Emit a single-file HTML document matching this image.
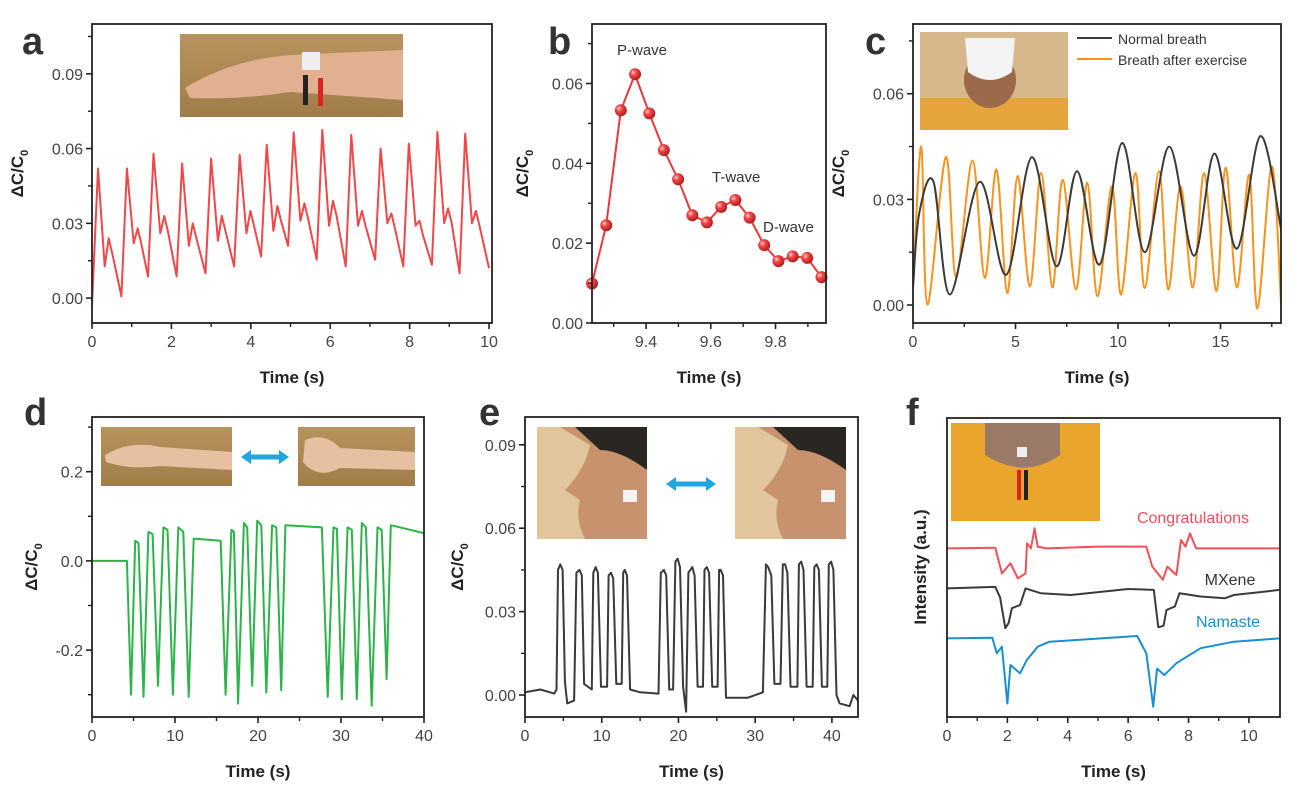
<!DOCTYPE html>
<html><head><meta charset="utf-8"><style>
html,body{margin:0;padding:0;background:#fff;}
svg{display:block;font-family:"Liberation Sans",Arial,sans-serif;}
.tk{font-size:16px;fill:#444;}
.ax{font-size:17px;font-weight:bold;fill:#222;}
.lt{font-size:38px;font-weight:bold;fill:#333;}
</style></head><body>
<svg id="fig" width="1296" height="793" viewBox="0 0 1296 793">
<defs>
<radialGradient id="ball" cx="0.35" cy="0.35" r="0.7"><stop offset="0" stop-color="#ffd0d0"/><stop offset="0.35" stop-color="#f04848"/><stop offset="1" stop-color="#b01818"/></radialGradient>
<linearGradient id="tan" x1="0" y1="0" x2="0" y2="1"><stop offset="0" stop-color="#b8935e"/><stop offset="1" stop-color="#a07c48"/></linearGradient>
</defs>
<text class="lt" x="22" y="54">a</text>
<text class="lt" x="548" y="54">b</text>
<text class="lt" x="865" y="54">c</text>
<text class="lt" x="24" y="425">d</text>
<text class="lt" x="479" y="425">e</text>
<text class="lt" x="906" y="425">f</text>

<g>
<rect x="180" y="34" width="223" height="83" fill="url(#tan)"/>
<path d="M185 88 Q230 60 290 55 L403 50 L403 100 L290 92 Q240 100 190 98 Z" fill="#e0b090"/>
<rect x="302" y="52" width="18" height="18" fill="#eee"/>
<rect x="303" y="75" width="5" height="30" fill="#222"/><rect x="318" y="78" width="5" height="28" fill="#d22"/>
</g>
<g>
<rect x="920" y="32" width="148" height="98" fill="#d6b88c"/>
<rect x="920" y="98" width="148" height="32" fill="#e6a53a"/>
<ellipse cx="990" cy="80" rx="26" ry="28" fill="#9a6a4a"/>
<path d="M965 38 L1015 38 L1012 72 Q990 88 968 72 Z" fill="#f4f4f4"/>
</g>
<g>
<rect x="101" y="427" width="131" height="59" fill="url(#tan)"/>
<path d="M105 455 Q130 440 160 447 L232 452 L232 470 L160 466 Q130 470 106 462Z" fill="#e6c0a0"/>
</g>
<g>
<rect x="298" y="427" width="117" height="59" fill="url(#tan)"/>
<path d="M305 440 Q325 432 340 448 L415 452 L415 470 L340 468 Q318 480 303 462Z" fill="#e6c0a0"/>
</g>
<g>
<line x1="247" y1="457" x2="283" y2="457" stroke="#1fa5e0" stroke-width="5"/>
<polygon points="241,457 251,450 251,464" fill="#1fa5e0"/><polygon points="289,457 279,450 279,464" fill="#1fa5e0"/>
</g>
<g>
<rect x="537" y="427" width="110" height="112" fill="#e0c69a"/>
<path d="M560 427 L647 427 L647 539 L585 539 Q575 520 580 500 L565 490 Q585 470 590 445Z" fill="#c8926e"/>
<path d="M575 427 L647 427 L647 470 Q620 450 600 450Z" fill="#2a2622"/>
<rect x="623" y="490" width="14" height="12" fill="#f4f4f4"/>
</g>
<g>
<rect x="735" y="427" width="111" height="112" fill="#e0c69a"/>
<path d="M758 427 L846 427 L846 539 L783 539 Q773 520 778 500 L763 490 Q783 470 788 445Z" fill="#c8926e"/>
<path d="M773 427 L846 427 L846 470 Q818 450 798 450Z" fill="#2a2622"/>
<rect x="821" y="490" width="14" height="12" fill="#f4f4f4"/>
</g>
<g>
<line x1="672" y1="484" x2="710" y2="484" stroke="#1fa5e0" stroke-width="5"/>
<polygon points="666,484 676,477 676,491" fill="#1fa5e0"/><polygon points="716,484 706,477 706,491" fill="#1fa5e0"/>
</g>
<g>
<rect x="951" y="423" width="149" height="98" fill="#e9a52c"/>
<path d="M985 423 L1060 423 L1060 455 Q1025 480 985 455Z" fill="#9a7a66"/>
<rect x="1017" y="447" width="10" height="10" fill="#eee"/>
<rect x="1017" y="470" width="4" height="30" fill="#d22"/><rect x="1024" y="470" width="4" height="30" fill="#222"/>
</g>
</svg>
<script>
// ---------- data ----------
const aPeakT = [0.15,0.88,1.55,2.27,3.0,3.72,4.4,5.08,5.8,6.53,7.27,7.98,8.7,9.4];
const aPeakV = [0.052,0.052,0.058,0.054,0.056,0.0575,0.0615,0.0665,0.0675,0.0655,0.060,0.062,0.0667,0.066];
const aDipV = [0.0127,0.022,0.026,0.021,0.023,0.026,0.027,0.031,0.029,0.029,0.030,0.029,0.030,0.030];
const aBumpV = [0.024,0.028,0.033,0.030,0.033,0.035,0.037,0.038,0.039,0.035,0.034,0.031,0.036,0.035];
const aTroughV = [-0.003,0.0007,0.0087,0.0087,0.010,0.0127,0.0167,0.021,0.0154,0.0127,0.0154,0.0127,0.0134,0.010];
const aEnd = [10, 0.012];
const bTimes = [9.233,9.277,9.322,9.366,9.410,9.455,9.499,9.543,9.588,9.632,9.676,9.720,9.765,9.809,9.853,9.898,9.942];
const bValues = [0.0099,0.0245,0.0533,0.0623,0.0525,0.0433,0.036,0.027,0.0252,0.0291,0.0308,0.0264,0.0195,0.0155,0.0167,0.0163,0.0115];
const cNormalT = [0,0.3,1.0,1.8,3.25,4.55,5.8,7.0,8.0,9.1,10.2,11.3,12.5,13.7,14.7,15.8,16.95,18];
const cNormalV = [0.005,0.026,0.035,0.003,0.035,0.0086,0.042,0.011,0.038,0.0115,0.046,0.015,0.045,0.014,0.043,0.016,0.048,0.02];
const cExerT = [0,0.4,0.7,1.6,2.1,2.9,3.5,4.07,4.6,5.1,5.7,6.25,6.8,7.3,7.95,8.5,9.0,9.7,10.15,10.85,11.3,12.0,12.45,13.05,13.65,14.2,14.8,15.25,15.8,16.4,16.8,17.5,17.95];
const cExerV = [0.005,0.045,0.0001,0.042,0.008,0.041,0.0077,0.0385,0.0034,0.0366,0.0053,0.0375,0.005,0.0356,0.0044,0.0347,0.0025,0.0337,0.003,0.0375,0.0048,0.038,0.0044,0.0337,0.005,0.0375,0.004,0.039,0.005,0.037,-0.001,0.0394,0.0006];
const dPoints = [[0,0.0],[4.2,0.0],[4.7,-0.30],[5.2,0.045],[5.6,0.04],[6.2,-0.305],[6.8,0.065],[7.3,0.06],[7.95,-0.28],[8.6,0.075],[9.1,0.07],[9.75,-0.30],[10.4,0.075],[11.0,0.065],[11.65,-0.305],[12.25,0.05],[15.5,0.045],[16.1,-0.30],[16.8,0.07],[17.1,0.065],[17.6,-0.32],[18.3,0.085],[18.7,0.075],[19.3,-0.28],[19.9,0.09],[20.4,0.08],[21.0,-0.295],[21.7,0.08],[22.2,0.075],[22.8,-0.29],[23.3,0.08],[27.7,0.075],[28.4,-0.305],[29.1,0.075],[29.5,0.072],[30.1,-0.31],[30.8,0.075],[31.3,0.07],[31.9,-0.31],[32.5,0.085],[33.0,0.075],[33.7,-0.325],[34.4,0.075],[34.9,0.07],[35.5,-0.265],[36.0,0.08],[40,0.062]];
const ePoints = [[0,0.001],[2,0.002],[3.8,0.0005],[4.1,0.002],[4.3,0.045],[4.6,0.047],[4.9,0.045],[5.2,0.005],[5.5,-0.003],[6.4,-0.002],[6.7,0.044],[7.1,0.045],[7.4,0.043],[7.7,0.004],[8.7,0.002],[8.9,0.044],[9.2,0.046],[9.5,0.044],[9.9,0.003],[10.7,0.003],[10.9,0.043],[11.2,0.044],[11.5,0.042],[11.9,0.004],[12.6,0.004],[12.8,0.044],[13.0,0.045],[13.3,0.043],[13.7,0.002],[15,0.001],[17.4,0.0005],[17.7,0.044],[18.1,0.045],[18.4,0.043],[18.8,0.002],[19.3,0.002],[19.6,0.048],[19.9,0.049],[20.2,0.046],[20.6,0.003],[21.0,-0.006],[21.3,0.044],[21.8,0.046],[22.1,0.043],[22.5,0.003],[23.2,0.003],[23.4,0.045],[23.7,0.046],[24.0,0.044],[24.4,0.003],[25.1,0.003],[25.3,0.045],[25.5,0.045],[25.8,0.043],[26.2,-0.001],[29,-0.001],[31,0.001],[31.4,0.047],[31.7,0.046],[32.1,0.043],[32.5,0.004],[33.3,0.004],[33.6,0.047],[33.9,0.047],[34.2,0.044],[34.6,0.003],[35.5,0.003],[35.7,0.047],[36.0,0.048],[36.3,0.045],[36.7,0.003],[37.5,0.003],[37.7,0.046],[38.0,0.047],[38.3,0.045],[38.7,0.003],[39.4,0.003],[39.6,0.047],[39.9,0.048],[40.2,0.045],[40.6,0.0],[41,-0.003],[42.3,-0.004],[42.8,0.0],[43.4,-0.002]];
const fCongrats = [[0,0.564],[1.6,0.566],[1.82,0.48],[2.1,0.514],[2.35,0.464],[2.6,0.48],[2.65,0.581],[2.78,0.564],[2.9,0.631],[3.0,0.57],[3.3,0.564],[5,0.57],[6.6,0.57],[6.8,0.503],[7.15,0.459],[7.3,0.503],[7.6,0.475],[7.75,0.592],[7.9,0.57],[8.05,0.614],[8.25,0.564],[11,0.564]];
const fMXene = [[0,0.43],[1.6,0.435],[1.76,0.40],[1.93,0.297],[2.04,0.314],[2.15,0.364],[2.42,0.375],[2.6,0.43],[3.1,0.414],[4.1,0.408],[6,0.428],[6.85,0.425],[7.0,0.30],[7.17,0.305],[7.27,0.358],[7.55,0.37],[7.7,0.414],[8.4,0.403],[9.2,0.397],[9.5,0.408],[10.6,0.42],[11,0.425]];
const fNamaste = [[0,0.263],[1.5,0.265],[1.65,0.213],[1.82,0.235],[2.0,0.045],[2.1,0.174],[2.42,0.146],[2.64,0.19],[3.0,0.235],[3.4,0.252],[5.1,0.263],[6.3,0.271],[6.6,0.213],[6.83,0.034],[6.96,0.162],[7.2,0.140],[7.6,0.18],[8.4,0.23],[9.5,0.252],[11,0.263]];
const xTicksA = [0,2,4,6,8,10], yTicksA = [0,0.03,0.06,0.09];
const xTicksB = [9.4,9.6,9.8], yTicksB = [0,0.02,0.04,0.06];
const xTicksC = [0,5,10,15], yTicksC = [0,0.03,0.06];
const xTicksD = [0,10,20,30,40], yTicksD = [-0.2,0,0.2];
const xTicksE = [0,10,20,30,40], yTicksE = [0,0.03,0.06,0.09];
const xTicksF = [0,2,4,6,8,10];

// ---------- drawing ----------
const NS = 'http://www.w3.org/2000/svg';
const svg = document.getElementById('fig');
function mk(tag, attrs, parent) {
  const e = document.createElementNS(NS, tag);
  for (const k in attrs) e.setAttribute(k, attrs[k]);
  (parent || svg).appendChild(e);
  return e;
}
function panel(name, box, xd, yd) {
  const g = mk('g', {});
  
  
  const sx = v => box[0] + (v - xd[0]) / (xd[1] - xd[0]) * (box[2] - box[0]);
  const sy = v => box[3] - (v - yd[0]) / (yd[1] - yd[0]) * (box[3] - box[1]);
  return {g, sx, sy, box};
}
function frame(P) {
  const b = P.box;
  const r = mk('rect', {x: b[0], y: b[1], width: b[2] - b[0], height: b[3] - b[1], fill: 'none', stroke: '#222', 'stroke-width': 1.8}, P.g);
  
  
}
function xAxis(P, ticks, minors, fmt) {
  const b = P.box;
  ticks.forEach(t => {
    const x = P.sx(t);
    mk('line', {x1: x, x2: x, y1: b[3], y2: b[3] + 6, stroke: '#222', 'stroke-width': 1.6}, P.g);
    const tx = mk('text', {x: x, y: b[3] + 24, 'text-anchor': 'middle', class: 'tk'}, P.g);
    tx.textContent = fmt(t);
    
    
  });
  minors.forEach(t => {
    const x = P.sx(t);
    mk('line', {x1: x, x2: x, y1: b[3], y2: b[3] + 4, stroke: '#222', 'stroke-width': 1.4}, P.g);
  });
  const t = mk('text', {x: (b[0] + b[2]) / 2, y: b[3] + 60, 'text-anchor': 'middle', class: 'ax'}, P.g);
  t.textContent = 'Time (s)';
  
  
}
function yAxis(P, ticks, minors, fmt, lx) {
  const b = P.box;
  ticks.forEach(v => {
    const y = P.sy(v);
    mk('line', {x1: b[0] - 6, x2: b[0], y1: y, y2: y, stroke: '#222', 'stroke-width': 1.6}, P.g);
    const tx = mk('text', {x: b[0] - 9, y: y + 6, 'text-anchor': 'end', class: 'tk'}, P.g);
    tx.textContent = fmt(v);
    
    
  });
  minors.forEach(v => {
    const y = P.sy(v);
    mk('line', {x1: b[0] - 4, x2: b[0], y1: y, y2: y, stroke: '#222', 'stroke-width': 1.4}, P.g);
  });
  const cy = (b[1] + b[3]) / 2;
  const t = mk('text', {x: lx, y: cy, 'text-anchor': 'middle', class: 'ax', transform: 'rotate(-90 ' + lx + ' ' + cy + ')'}, P.g);
  t.textContent = 'ΔC/C';
  const s = mk('tspan', {'font-size': '11', dy: '5'}, t);
  s.textContent = '0';
  
  
}
function linePath(P, pts, smooth) {
  const p = pts.map(q => [P.sx(q[0]), P.sy(q[1])]);
  if (!smooth) return 'M' + p.map(q => q[0].toFixed(1) + ' ' + q[1].toFixed(1)).join(' L');
  let d = 'M' + p[0][0].toFixed(1) + ' ' + p[0][1].toFixed(1);
  for (let i = 0; i < p.length - 1; i++) {
    const p0 = p[i - 1] || p[i], p1 = p[i], p2 = p[i + 1], p3 = p[i + 2] || p2;
    const c1 = [p1[0] + (p2[0] - p0[0]) / 6, p1[1] + (p2[1] - p0[1]) / 6];
    const c2 = [p2[0] - (p3[0] - p1[0]) / 6, p2[1] - (p3[1] - p1[1]) / 6];
    d += ' C' + c1.map(v => v.toFixed(1)).join(' ') + ' ' + c2.map(v => v.toFixed(1)).join(' ') + ' ' + p2[0].toFixed(1) + ' ' + p2[1].toFixed(1);
  }
  return d;
}
function series(P, pts, color, name, smooth, w) {
  const clip = 'clip-' + name;
  const cp = mk('clipPath', {id: clip}, P.g);
  mk('rect', {x: P.box[0], y: P.box[1], width: P.box[2] - P.box[0], height: P.box[3] - P.box[1]}, cp);
  const path = mk('path', {d: linePath(P, pts, smooth), fill: 'none', stroke: color, 'stroke-width': w || 2, 'stroke-linejoin': 'round', 'clip-path': 'url(#' + clip + ')'}, P.g);
  
  
  return path;
}
function label(P, x, y, txt, color, size, name, anchor) {
  const t = mk('text', {x: x, y: y, fill: color, 'font-size': size, 'text-anchor': anchor || 'start'}, P.g);
  t.textContent = txt;
  
  
}
const f2 = v => v.toFixed(2), f1 = v => v.toFixed(1), f0 = v => String(v);

// Panel a
(function () {
  const P = panel('panel-a-pulse-chart', [92, 24, 492, 323], [0, 10.075], [-0.01, 0.11]);
  const pts = [];
  aPeakT.forEach((t, i) => {
    if (i === 0) pts.push([0, aTroughV[0]]); else pts.push([t - 0.14, aTroughV[i]]);
    pts.push([t, aPeakV[i]]);
    pts.push([t + 0.17, aDipV[i]]);
    pts.push([t + 0.27, aBumpV[i]]);
    pts.push([t + 0.36, aBumpV[i] - 0.006]);
  });
  pts.push(aEnd);
  series(P, pts, '#f04848', 'pulse-line', false, 2);
  frame(P);
  xAxis(P, xTicksA, [1, 3, 5, 7, 9], f0);
  yAxis(P, yTicksA, [0.015, 0.045, 0.075, 0.105], f2, 23);
})();

// Panel b
(function () {
  const P = panel('panel-b-single-pulse-chart', [592, 24, 826, 323], [9.233, 9.956], [0, 0.0749]);
  const pts = bTimes.map((t, i) => [t, bValues[i]]);
  series(P, pts, '#e83a3d', 'single-pulse-line', false, 2);
  pts.forEach(q => {
    const c = mk('circle', {cx: P.sx(q[0]), cy: P.sy(q[1]), r: 6, fill: 'url(#ball)'}, P.g);
    
    
  });
  frame(P);
  xAxis(P, xTicksB, [9.3, 9.5, 9.7, 9.9], f1);
  yAxis(P, yTicksB, [0.01, 0.03, 0.05, 0.07], f2, 528);
  label(P, 617, 55, 'P-wave', '#333', 15, 'p-wave-annotation');
  label(P, 712, 182, 'T-wave', '#333', 15, 't-wave-annotation');
  label(P, 763, 232, 'D-wave', '#333', 15, 'd-wave-annotation');
})();

// Panel c
(function () {
  const P = panel('panel-c-breath-chart', [913, 24, 1281, 323], [0, 17.95], [-0.0051, 0.0798]);
  series(P, cExerT.map((t, i) => [t, cExerV[i]]), '#f7931e', 'exercise-breath-line', true, 2);
  series(P, cNormalT.map((t, i) => [t, cNormalV[i]]), '#3a3a3a', 'normal-breath-line', true, 2);
  frame(P);
  xAxis(P, xTicksC, [2.5, 7.5, 12.5, 17.5], f0);
  yAxis(P, yTicksC, [0.015, 0.045, 0.075], f2, 844);
  const lg = mk('g', {}, P.g);
  
  
  mk('line', {x1: 1077, x2: 1112, y1: 38, y2: 38, stroke: '#3a3a3a', 'stroke-width': 2}, lg);
  mk('line', {x1: 1077, x2: 1112, y1: 59, y2: 59, stroke: '#f7931e', 'stroke-width': 2}, lg);
  label({g: lg}, 1118, 44, 'Normal breath', '#333', 14, 'legend-normal-breath');
  label({g: lg}, 1118, 65, 'Breath after exercise', '#333', 14, 'legend-breath-after-exercise');
})();

// Panel d
(function () {
  const P = panel('panel-d-wrist-bend-chart', [92, 417, 424, 717], [0, 40], [-0.35, 0.3226]);
  series(P, dPoints, '#2db34a', 'wrist-bend-line', false, 2);
  frame(P);
  xAxis(P, xTicksD, [5, 15, 25, 35], f0);
  yAxis(P, yTicksD, [-0.3, -0.1, 0.1, 0.3], f1, 37);
})();

// Panel e
(function () {
  const P = panel('panel-e-blink-chart', [525, 417, 858, 717], [0, 43.4], [-0.0079, 0.1]);
  series(P, ePoints, '#3a3a3a', 'blink-line', false, 2);
  frame(P);
  xAxis(P, xTicksE, [5, 15, 25, 35], f0);
  yAxis(P, yTicksE, [0.015, 0.045, 0.075], f2, 463);
})();

// Panel f
(function () {
  const P = panel('panel-f-speech-chart', [947, 418, 1280, 717], [0, 11.03], [0, 1]);
  series(P, fCongrats, '#f0505a', 'congratulations-line', false, 2);
  series(P, fMXene, '#3a3a3a', 'mxene-line', false, 2);
  series(P, fNamaste, '#1a8fd0', 'namaste-line', false, 2);
  frame(P);
  xAxis(P, xTicksF, [1, 3, 5, 7, 9], f0);
  const cy = 567;
  const t = mk('text', {x: 926, y: cy, 'text-anchor': 'middle', class: 'ax', transform: 'rotate(-90 926 ' + cy + ')'}, P.g);
  t.textContent = 'Intensity (a.u.)';
  
  
  label(P, 1193, 523, 'Congratulations', '#f0505a', 16, 'congratulations-label', 'middle');
  label(P, 1230, 585, 'MXene', '#333', 16, 'mxene-label', 'middle');
  label(P, 1228, 627, 'Namaste', '#1a8fd0', 16, 'namaste-label', 'middle');
})();
</script>
</body></html>
